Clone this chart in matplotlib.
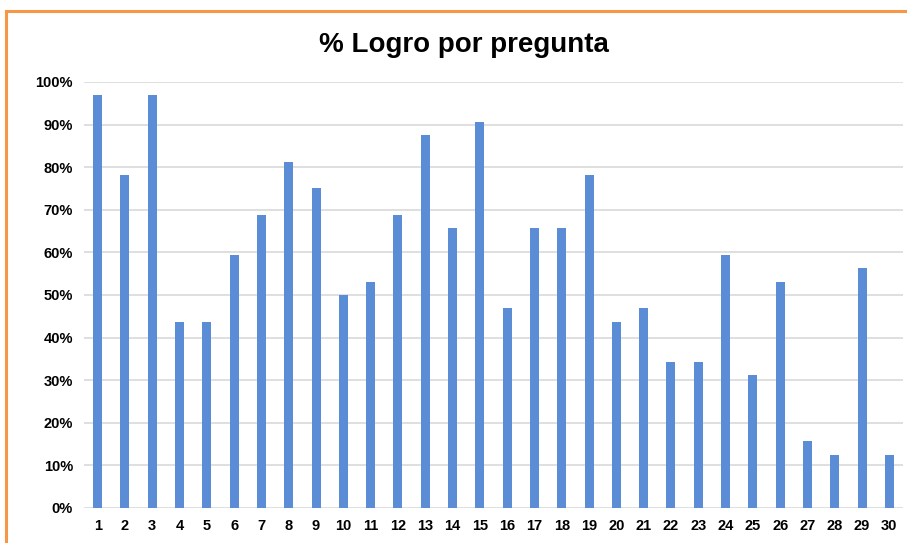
import matplotlib
matplotlib.use('Agg')
import matplotlib.pyplot as plt
from matplotlib.patches import Rectangle
from matplotlib.ticker import PercentFormatter

preguntas = [str(i) for i in range(1, 31)]
logro = [96.875, 78.125, 96.875, 43.75, 43.75, 59.375, 68.75, 81.25, 75.0, 50.0,
         53.125, 68.75, 87.5, 65.625, 90.625, 46.875, 65.625, 65.625, 78.125, 43.75,
         46.875, 34.375, 34.375, 59.375, 31.25, 53.125, 15.625, 12.5, 56.25, 12.5]
y_ticks = [0, 10, 20, 30, 40, 50, 60, 70, 80, 90, 100]


def main():
    plt.rcParams['font.family'] = ['Liberation Sans', 'DejaVu Sans']
    fig = plt.figure(figsize=(9.07, 5.43), dpi=100)
    ax = fig.add_axes([0.0926, 0.0645, 0.903, 0.7845])

    x = list(range(1, 31))
    ax.bar(x, logro, width=0.33, color='#5B8DD6', zorder=3)
    ax.set_xlim(0.5, 30.5)
    ax.set_ylim(0, 100)
    ax.set_xticks(x)
    ax.set_xticklabels(preguntas, fontsize=10.5, fontweight='bold')
    ax.set_yticks(y_ticks)
    ax.yaxis.set_major_formatter(PercentFormatter(decimals=0))
    for lab in ax.get_yticklabels():
        lab.set_fontweight('bold')
        lab.set_fontsize(10.5)
    ax.tick_params(length=0, pad=8)
    ax.grid(axis='y', color='#D9D9D9', linewidth=1.2, zorder=0)
    for s in ax.spines.values():
        s.set_visible(False)

    fig.text(0.512, 0.918, '% Logro por pregunta', ha='center', va='center',
             fontsize=20, fontweight='bold')

    # borde naranja del cuadro
    fig.patches.append(Rectangle((6 / 907, -0.05), 1.2, 1.05 - 11 / 543, transform=fig.transFigure,
                                 fill=False, edgecolor='#F79646', linewidth=2.2))
    fig.savefig('out.png', dpi=100)


if __name__ == '__main__':
    main()
